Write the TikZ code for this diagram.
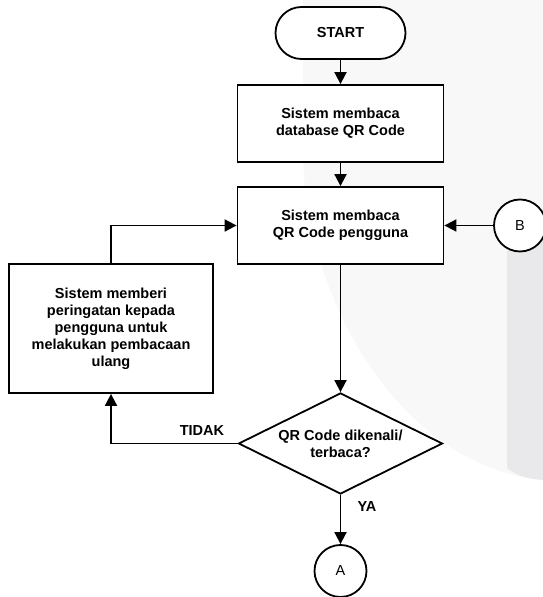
\documentclass[tikz,border=0pt]{standalone}
\usepackage{fontspec}
\setmainfont{Liberation Sans}
\usetikzlibrary{arrows.meta,shapes.geometric}
\definecolor{wmlight}{HTML}{F8F8F8}
\definecolor{wmdark}{HTML}{E9E9EB}
\begin{document}
\begin{tikzpicture}[x=1pt,y=1pt,
  line width=1.8pt,
  txt/.style={font=\fontsize{14.5}{17}\selectfont\bfseries, align=center},
  proc/.style={txt, draw, fill=white, rectangle, inner sep=0pt},
  term/.style={txt, draw, fill=white, rectangle, rounded corners=26pt, minimum width=130pt, minimum height=52pt, inner sep=0pt},
  dec/.style={txt, draw, fill=white, diamond, aspect=2, inner sep=0pt, minimum width=204pt, minimum height=101pt},
  conn/.style={draw, fill=white, circle, minimum size=52pt, inner sep=0pt, font=\fontsize{14.5}{17}\selectfont},
  arr/.style={-{Triangle[length=12pt,width=12pt]}},
  lbl/.style={font=\fontsize{14.5}{17}\selectfont\bfseries}
]
\useasboundingbox (0,0) rectangle (543,597);
% watermark
\fill[wmlight] (303,597) -- (303,447) .. controls (303,300) and (400,130) .. (543,117) -- (543,597) -- cycle;
\fill[wmdark] (507,345) -- (543,380) -- (543,117) .. controls (530,118) and (518,120) .. (507,129) -- cycle;
% nodes
\node[term] (start) at (340.5,564) {START};
\node[proc, minimum width=206pt, minimum height=77pt] (box1) at (340.5,473.5) {Sistem membaca\\database QR Code};
\node[proc, minimum width=206pt, minimum height=77pt] (box2) at (340.5,371.5) {Sistem membaca\\QR Code pengguna};
\node[proc, minimum width=204pt, minimum height=129pt] (warn) at (111,268.5) {Sistem memberi\\peringatan kepada\\pengguna untuk\\melakukan pembacaan\\ulang};
\node[dec] (check) at (340.5,153.5) {QR Code dikenali/\\terbaca?};
\node[conn] (A) at (340.5,26) {A};
\node[conn] (B) at (520,371.5) {B};
% connectors
\draw[arr] (start) -- (box1);
\draw[arr] (box1) -- (box2);
\draw[arr] (box2) -- (check);
\draw[arr] (check) -- (A);
\draw[arr] (B) -- (box2);
\draw[arr] (warn.north) |- (box2.west);
\draw[arr] (check.west) -| (warn.south);
% labels
\node[lbl] (tidak) at (202,166) {TIDAK};
\node[lbl] (ya) at (367,90) {YA};
\end{tikzpicture}
\end{document}
